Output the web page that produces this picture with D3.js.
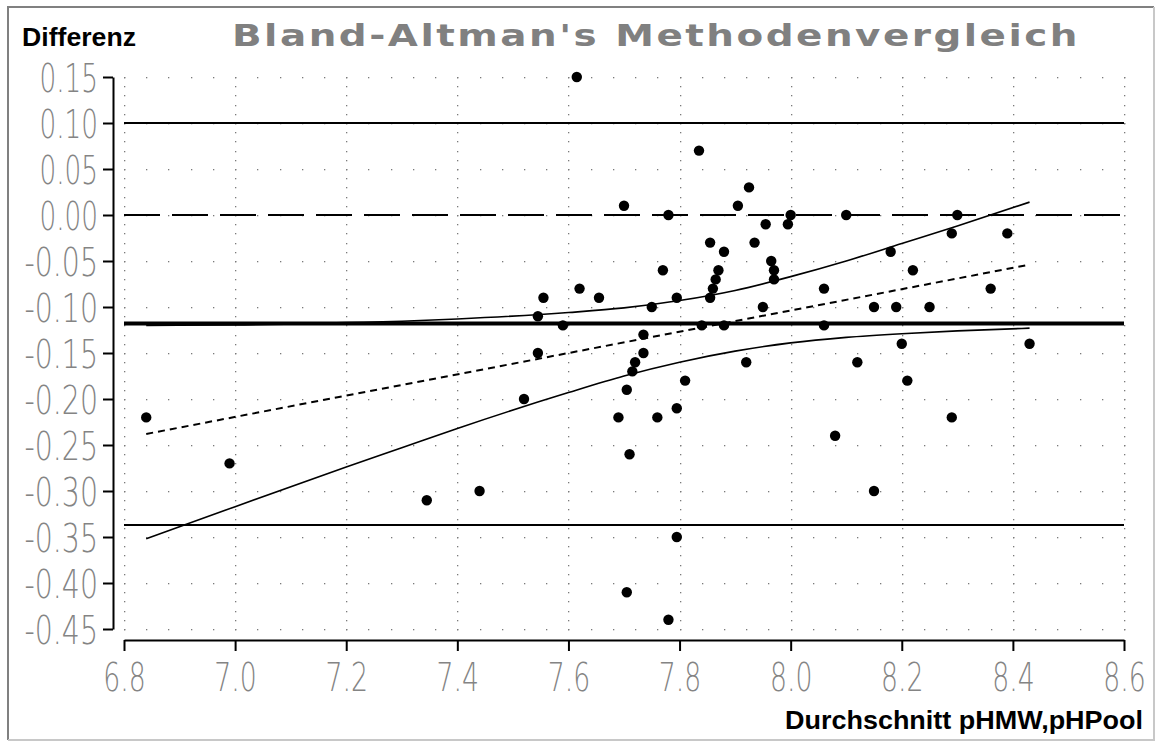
<!DOCTYPE html>
<html>
<head>
<meta charset="utf-8">
<script src="https://cdn.jsdelivr.net/npm/d3@7"></script>
<style>
  body { margin: 0; background: #fff; }
  svg { display: block; }
</style>
</head>
<body>
<svg id="chart"></svg>
<script>
// average of both methods (x) and their difference (y), one entry per sample
const meanVals = [6.84, 6.99, 7.345, 7.44, 7.52, 7.545, 7.545, 7.555, 7.59, 7.615,
                  7.62, 7.655, 7.69, 7.70, 7.705, 7.705, 7.71, 7.715, 7.72, 7.735,
                  7.735, 7.75, 7.76, 7.77, 7.78, 7.78, 7.795, 7.795, 7.795, 7.81,
                  7.835, 7.84, 7.855, 7.855, 7.86, 7.865, 7.87, 7.88, 7.88, 7.905,
                  7.92, 7.925, 7.935, 7.95, 7.955, 7.965, 7.97, 7.97, 7.995, 8.0,
                  8.06, 8.06, 8.08, 8.10, 8.12, 8.15, 8.15, 8.18, 8.19, 8.20,
                  8.21, 8.22, 8.25, 8.29, 8.29, 8.30, 8.36, 8.39, 8.43];
const diffVals = [-0.22, -0.27, -0.31, -0.30, -0.20, -0.11, -0.15, -0.09, -0.12, 0.15,
                  -0.08, -0.09, -0.22, 0.01, -0.19, -0.41, -0.26, -0.17, -0.16, -0.13,
                  -0.15, -0.10, -0.22, -0.06, 0.00, -0.44, -0.09, -0.21, -0.35, -0.18,
                  0.07, -0.12, -0.03, -0.09, -0.08, -0.07, -0.06, -0.04, -0.12, 0.01,
                  -0.16, 0.03, -0.03, -0.10, -0.01, -0.05, -0.06, -0.07, -0.01, 0.00,
                  -0.08, -0.12, -0.24, 0.00, -0.16, -0.10, -0.30, -0.04, -0.10, -0.14,
                  -0.18, -0.06, -0.10, -0.02, -0.22, 0.00, -0.08, -0.02, -0.14];

// mean difference and limits of agreement
const meanDiff = -0.118;
const upperLimit = 0.100;
const lowerLimit = -0.337;
const zeroLine = 0;

// regression line of the differences and its confidence band
const regX = [6.84, 8.43];
const regY = [-0.238, -0.054];
const bandX = [6.84, 7.0, 7.2, 7.3, 7.4, 7.6, 7.7, 7.8, 7.9, 8.0, 8.1, 8.2, 8.3, 8.43];
const bandUpper = [-0.120, -0.1195, -0.117, -0.1155, -0.113, -0.106, -0.101, -0.093, -0.082, -0.067, -0.050, -0.031, -0.012, 0.014];
const bandLower = [-0.352, -0.317, -0.274, -0.253, -0.232, -0.193, -0.175, -0.160, -0.148, -0.139, -0.133, -0.129, -0.126, -0.123];

const xTicks = [6.8, 7.0, 7.2, 7.4, 7.6, 7.8, 8.0, 8.2, 8.4, 8.6];
const yTicks = [0.15, 0.10, 0.05, 0.00, -0.05, -0.10, -0.15, -0.20, -0.25, -0.30, -0.35, -0.40, -0.45];

const width = 1157, height = 743;

const svg = d3.select("#chart")
    .attr("width", width)
    .attr("height", height);

svg.append("rect")
    .attr("width", width)
    .attr("height", height)
    .attr("fill", "#fff");

// sunken frame round the picture
svg.append("path").attr("d", "M8,740 V7 H1154").attr("fill", "none").attr("stroke", "#808080").attr("stroke-width", 2);
svg.append("path").attr("d", "M8,740 H1154 V7").attr("fill", "none").attr("stroke", "#c8c8c8").attr("stroke-width", 2);

const x = d3.scaleLinear().domain([6.8, 8.6]).range([124, 1124]);
const y = d3.scaleLinear().domain([0.15, -0.45]).range([77, 629]);

// dotted grid: rows at y ticks, columns at x ticks
const grid = svg.append("g").attr("fill", "#7a7a7a");
yTicks.forEach(v => {
    d3.range(0, 46).forEach(k => {
        grid.append("rect")
            .attr("x", Math.round(x(6.8 + k * 0.04)))
            .attr("y", Math.round(y(v)))
            .attr("width", 1.3).attr("height", 1.3);
    });
});
xTicks.forEach(v => {
    d3.range(0, 61).forEach(k => {
        grid.append("rect")
            .attr("x", Math.round(x(v)))
            .attr("y", Math.round(y(0.15 - k * 0.01)))
            .attr("width", 1.3).attr("height", 1.3);
    });
});

// horizontal reference lines
function hLine(v, w, dash) {
    svg.append("line")
        .attr("x1", x(6.8)).attr("x2", x(8.6))
        .attr("y1", y(v)).attr("y2", y(v))
        .attr("stroke", "#000")
        .attr("stroke-width", w)
        .attr("stroke-dasharray", dash);
}
hLine(upperLimit, 2, null);
hLine(zeroLine, 2, "36 12");
hLine(lowerLimit, 2, null);
hLine(meanDiff, 4, null);

// regression and band
const line = d3.line().x(d => x(d[0])).y(d => y(d[1]));
const bandLine = d3.line().x(d => x(d[0])).y(d => y(d[1])).curve(d3.curveMonotoneX);

svg.append("path")
    .attr("d", line(d3.zip(regX, regY)))
    .attr("fill", "none").attr("stroke", "#000")
    .attr("stroke-width", 2).attr("stroke-dasharray", "7 5");

[bandUpper, bandLower].forEach(b => {
    svg.append("path")
        .attr("d", bandLine(d3.zip(bandX, b)))
        .attr("fill", "none").attr("stroke", "#000")
        .attr("stroke-width", 1.6);
});

// tall narrow tick labels
function labelLen(s) {
    let w = 0;
    for (const c of s) w += c === "." ? 10.5 : c === "-" ? 15 : 16;
    return w;
}

function styleTicks(g) {
    g.select(".domain").attr("stroke", "#000").attr("stroke-width", 2);
    g.selectAll(".tick line").attr("stroke", "#000").attr("stroke-width", 2);
    g.selectAll(".tick text")
        .attr("fill", "#848484")
        .style("font-family", "'DejaVu Sans ExtraLight', 'DejaVu Sans', sans-serif")
        .style("font-weight", "200")
        .style("font-size", "39px")
        .attr("lengthAdjust", "spacingAndGlyphs")
        .attr("textLength", function () { return labelLen(this.textContent); });
}

svg.append("g")
    .attr("transform", "translate(113,0)")
    .call(d3.axisLeft(y).tickValues(yTicks).tickSize(10).tickSizeOuter(0).tickFormat(d => d.toFixed(2)))
    .call(styleTicks)
    .call(g => g.selectAll(".tick text").attr("x", -15).attr("dy", "0.36em"));

svg.append("g")
    .attr("transform", "translate(0,640)")
    .call(d3.axisBottom(x).tickValues(xTicks).tickSize(11).tickSizeOuter(0).tickFormat(d => d.toFixed(1)))
    .call(styleTicks)
    .call(g => g.selectAll(".tick text").attr("y", 51).attr("dy", 0));

// points
svg.append("g")
    .selectAll("circle")
    .data(d3.zip(meanVals, diffVals))
    .enter()
    .append("circle")
    .attr("cx", d => x(d[0]))
    .attr("cy", d => y(d[1]))
    .attr("r", 5.2)
    .attr("fill", "#000");

// texts
svg.append("text")
    .attr("x", 232).attr("y", 46)
    .attr("fill", "#808080")
    .style("font-family", "'DejaVu Sans', Verdana, sans-serif")
    .style("font-weight", "bold")
    .style("font-size", "31px")
    .style("letter-spacing", "2px")
    .attr("textLength", 848)
    .attr("lengthAdjust", "spacingAndGlyphs")
    .text("Bland-Altman's Methodenvergleich");

svg.append("text")
    .attr("x", 22).attr("y", 46)
    .attr("fill", "#000")
    .style("font-family", "'Liberation Sans', Arial, sans-serif")
    .style("font-weight", "bold")
    .style("font-size", "25px")
    .attr("textLength", 114)
    .attr("lengthAdjust", "spacingAndGlyphs")
    .text("Differenz");

svg.append("text")
    .attr("x", 785).attr("y", 729)
    .attr("fill", "#000")
    .style("font-family", "'Liberation Sans', Arial, sans-serif")
    .style("font-weight", "bold")
    .style("font-size", "25px")
    .attr("textLength", 358)
    .attr("lengthAdjust", "spacingAndGlyphs")
    .text("Durchschnitt pHMW,pHPool");
</script>
</body>
</html>
